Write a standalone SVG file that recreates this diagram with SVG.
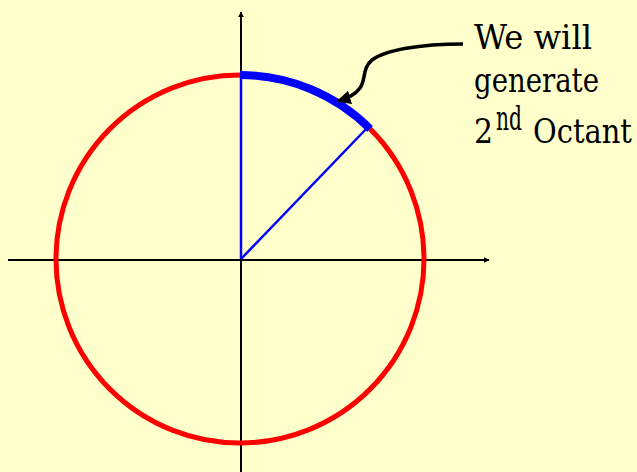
<svg xmlns="http://www.w3.org/2000/svg" width="637" height="472" viewBox="0 0 637 472">
<style>
.axis{stroke:#000;stroke-width:2;fill:none}
.lbl{font-family:"DejaVu Serif",serif;font-stretch:condensed;font-size:33px;fill:#000}
</style>
<defs>
<marker id="ah" viewBox="0 0 10 10" refX="9" refY="5" markerWidth="4" markerHeight="4" orient="auto" markerUnits="strokeWidth">
<path d="M0,0 L10,5 L0,10 Z" fill="#000"/>
</marker>
<marker id="ah2" viewBox="0 0 10 10" refX="9" refY="5" markerWidth="6" markerHeight="6" orient="auto" markerUnits="userSpaceOnUse">
<path d="M0,0 L10,5 L0,10 Z" fill="#000"/>
</marker>
</defs>
<rect width="637" height="472" fill="#FFFFCC"/>
<g id="axes">
<line class="axis" x1="8" y1="260" x2="489" y2="260" marker-end="url(#ah2)"/>
<line class="axis" x1="241" y1="472" x2="241" y2="12" marker-end="url(#ah2)"/>
</g>
<g id="circle">
<circle cx="240" cy="259" r="184" fill="none" stroke="#FF0000" stroke-width="5"/>
</g>
<g id="octant">
<line x1="241" y1="259" x2="241" y2="75" stroke="#0000FF" stroke-width="2.5"/>
<line x1="241" y1="259" x2="368" y2="127" stroke="#0000FF" stroke-width="2.5"/>
<path d="M240,75 A184,184 0 0 1 370.1,128.9" fill="none" stroke="#0000FF" stroke-width="8"/>
</g>
<g id="connectors">
<path d="M463,44 C420,44 385,50 372,60 C362,68 366,80 360,88 C355,95 348,98 338,101" fill="none" stroke="#000" stroke-width="3.5" marker-end="url(#ah)"/>
</g>
<g id="label">
<text class="lbl" x="474" y="49" textLength="118" lengthAdjust="spacingAndGlyphs">We will</text>
<text class="lbl" x="474" y="92" textLength="125" lengthAdjust="spacingAndGlyphs">generate</text>
<text class="lbl" x="474" y="143" textLength="19" lengthAdjust="spacingAndGlyphs">2</text>
<text class="lbl" x="496" y="130" font-size="22" textLength="26" lengthAdjust="spacingAndGlyphs">nd</text>
<text class="lbl" x="533" y="143" textLength="99" lengthAdjust="spacingAndGlyphs">Octant</text>
</g>
</svg>
